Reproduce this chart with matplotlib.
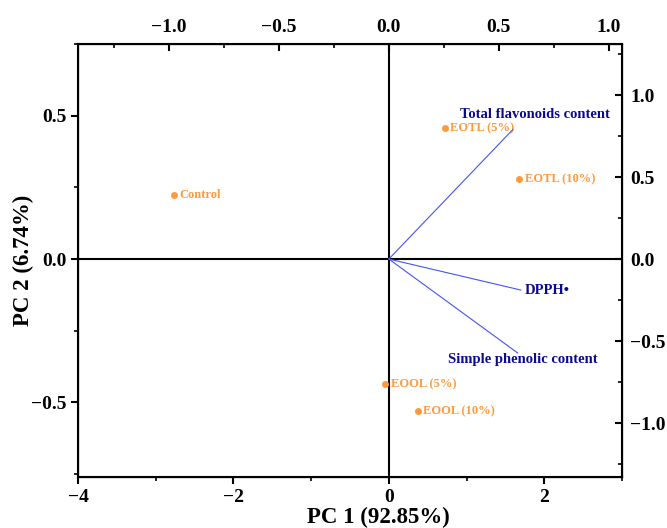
import numpy as np
import matplotlib
matplotlib.use('Agg')
import matplotlib.pyplot as plt
from matplotlib.ticker import MultipleLocator

plt.rcParams['font.family'] = 'Liberation Serif'
plt.rcParams['font.weight'] = 'bold'

"""
Scores (PC1, PC2) and loadings
"""
samples = ['Control', 'EOTL (5%)', 'EOTL (10%)', 'EOOL (5%)', 'EOOL (10%)']
pc1 = [-2.77, 0.72, 1.68, -0.05, 0.37]
pc2 = [0.223, 0.456, 0.279, -0.436, -0.53]

variables = ['Total flavonoids content', 'DPPH\u2022', 'Simple phenolic content']
load1 = [0.564, 0.60, 0.586]
load2 = [0.79, -0.189, -0.573]

orange = '#FF9A3C'
navy = '#0A0A8C'

fig = plt.figure(figsize=(6.67, 5.28), dpi=100)
ax = fig.add_axes([0.117, 0.0966, 0.8155, 0.82])
ax.set_xlim(-4, 3)
ax.set_ylim(-0.76, 0.75)
ax.axhline(0, color='black', lw=1.5, zorder=1)
ax.axvline(0, color='black', lw=1.5, zorder=1)

ax.scatter(pc1, pc2, s=16, color=orange, zorder=3)
for x, y, s in zip(pc1, pc2, samples):
    ax.annotate(s, (x, y), xytext=(4, 0), textcoords='offset points',
                va='center', ha='left', color=orange, fontsize=9,
                fontweight='bold')

ax.xaxis.set_major_locator(MultipleLocator(2))
ax.xaxis.set_minor_locator(MultipleLocator(1))
ax.yaxis.set_major_locator(MultipleLocator(0.5))
ax.yaxis.set_minor_locator(MultipleLocator(0.25))
ax.tick_params(which='major', direction='out', length=5, width=1.5,
               labelsize=14, top=False, right=False)
ax.tick_params(which='minor', direction='out', length=3, width=1.2,
               top=False, right=False)
ax.set_xlabel('PC 1 (92.85%)', fontsize=16.5, fontweight='bold')
ax.xaxis.set_label_coords(0.553, -0.07, transform=ax.transAxes)
ax.xaxis.label.set_va('top')
ax.set_ylabel('PC 2 (6.74%)', fontsize=16.5, fontweight='bold')
ax.yaxis.set_label_coords(-0.101, 0.5, transform=ax.transAxes)
ax.yaxis.label.set_va('center')
for sp in ax.spines.values():
    sp.set_linewidth(1.5)

# loadings on top/right axes
ax2 = ax.twinx().twiny()
ax2.set_xlim(-4/2.83, 3/2.83)
ax2.set_ylim(-1.329, 1.311)
for x, y in zip(load1, load2):
    ax2.plot([0, x], [0, y], color='#4455EE', lw=0.8, zorder=2)
ax2.annotate(variables[0], (load1[0], load2[0]), xytext=(16, 11),
             textcoords='offset points', ha='center', va='center',
             color=navy, fontsize=10.5, fontweight='bold')
ax2.annotate(variables[1], (load1[1], load2[1]), xytext=(3, 0),
             textcoords='offset points', ha='left', va='center',
             color=navy, fontsize=10.5, fontweight='bold')
ax2.annotate(variables[2], (load1[2], load2[2]), xytext=(4, -5),
             textcoords='offset points', ha='center', va='center',
             color=navy, fontsize=10.5, fontweight='bold')

ax2.xaxis.set_major_locator(MultipleLocator(0.5))
ax2.xaxis.set_minor_locator(MultipleLocator(0.25))
ax2.tick_params(axis='x', which='major', direction='in', length=5, width=1.5,
                labelsize=14, pad=6)
ax2.tick_params(axis='x', which='minor', direction='in', length=3, width=1.2)
ax3 = fig.axes[1]
ax3.yaxis.set_major_locator(MultipleLocator(0.5))
ax3.yaxis.set_minor_locator(MultipleLocator(0.25))
ax3.set_ylim(-1.329, 1.311)
ax3.tick_params(axis='y', which='major', direction='in', length=5, width=1.5,
                labelsize=14, pad=6)
ax3.tick_params(axis='y', which='minor', direction='in', length=3, width=1.2)

fig.savefig('out.png', dpi=100)
